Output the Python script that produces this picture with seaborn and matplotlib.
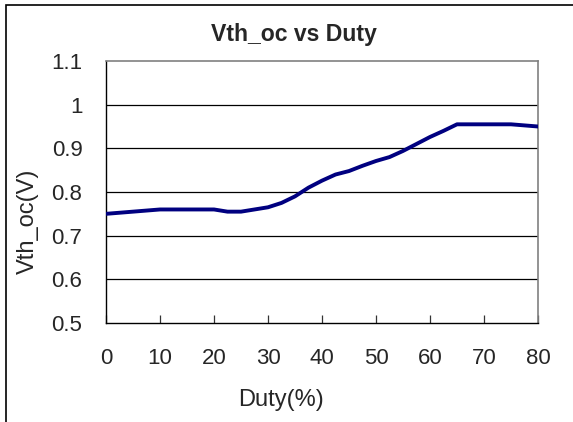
import matplotlib
matplotlib.use("Agg")
import matplotlib.pyplot as plt
from matplotlib.patches import Rectangle
import seaborn as sns
import pandas as pd

duty = [0, 5, 10, 15, 20, 22.5, 25, 27.5, 30, 32.5, 35, 37.5, 40, 42.5, 45,
        47.5, 50, 52.5, 55, 57.5, 60, 62.5, 65, 70, 75, 80]
vth_oc = [0.750, 0.755, 0.760, 0.760, 0.760, 0.755, 0.755, 0.760, 0.765, 0.775,
          0.790, 0.810, 0.826, 0.840, 0.848, 0.860, 0.871, 0.880, 0.894, 0.910,
          0.926, 0.940, 0.955, 0.955, 0.955, 0.950]
x_ticks = [0, 10, 20, 30, 40, 50, 60, 70, 80]
y_ticks = [0.5, 0.6, 0.7, 0.8, 0.9, 1.0, 1.1]
y_tick_labels = ["0.5", "0.6", "0.7", "0.8", "0.9", "1", "1.1"]

df = pd.DataFrame({"Duty": duty, "Vth_oc": vth_oc})

sns.set_style("white")
plt.rcParams["font.family"] = ["Liberation Sans", "DejaVu Sans"]

W, H = 573, 422
fig = plt.figure(figsize=(W / 100, H / 100), dpi=100)
ax = fig.add_axes([106 / W, 1 - 323 / H, (538 - 106) / W, (323 - 61) / H])

sns.lineplot(data=df, x="Duty", y="Vth_oc", ax=ax, color="#000080",
             linewidth=2.8, zorder=3)

ax.set_xlim(0, 80)
ax.set_ylim(0.5, 1.1)
ax.set_xticks(x_ticks)
ax.set_xticklabels([str(t) for t in x_ticks])
ax.set_yticks(y_ticks)
ax.set_yticklabels(y_tick_labels)
for y in y_ticks[1:-1]:
    ax.axhline(y, color="black", linewidth=0.9, zorder=1)

ax.tick_params(axis="x", direction="in", length=5.5, width=0.9, color="#333333",
               pad=18, labelsize=16, bottom=True)
ax.tick_params(axis="y", length=0, pad=17, labelsize=16)
ax.set_xlabel("")
ax.set_ylabel("")

for s in ["left", "bottom"]:
    ax.spines[s].set_color("black")
    ax.spines[s].set_linewidth(1.0)
for s in ["top", "right"]:
    ax.spines[s].set_color("#808080")
    ax.spines[s].set_linewidth(1.2)

fig.text(294 / W, 1 - 35 / H, "Vth_oc vs Duty", ha="center", va="center",
         fontsize=16.6, fontweight="bold")
fig.text(281.5 / W, 1 - 400 / H, "Duty(%)", ha="center", va="center",
         fontsize=17)
fig.text(27.5 / W, 1 - 221 / H, "Vth_oc(V)", ha="center", va="center",
         rotation=90, fontsize=17)

fig.patches.append(Rectangle((5.5 / W, -0.1), 1.2, 1 - 5.5 / H + 0.1,
                             transform=fig.transFigure, fill=False,
                             edgecolor="black", linewidth=1.2))

fig.savefig("out.png", dpi=100)
